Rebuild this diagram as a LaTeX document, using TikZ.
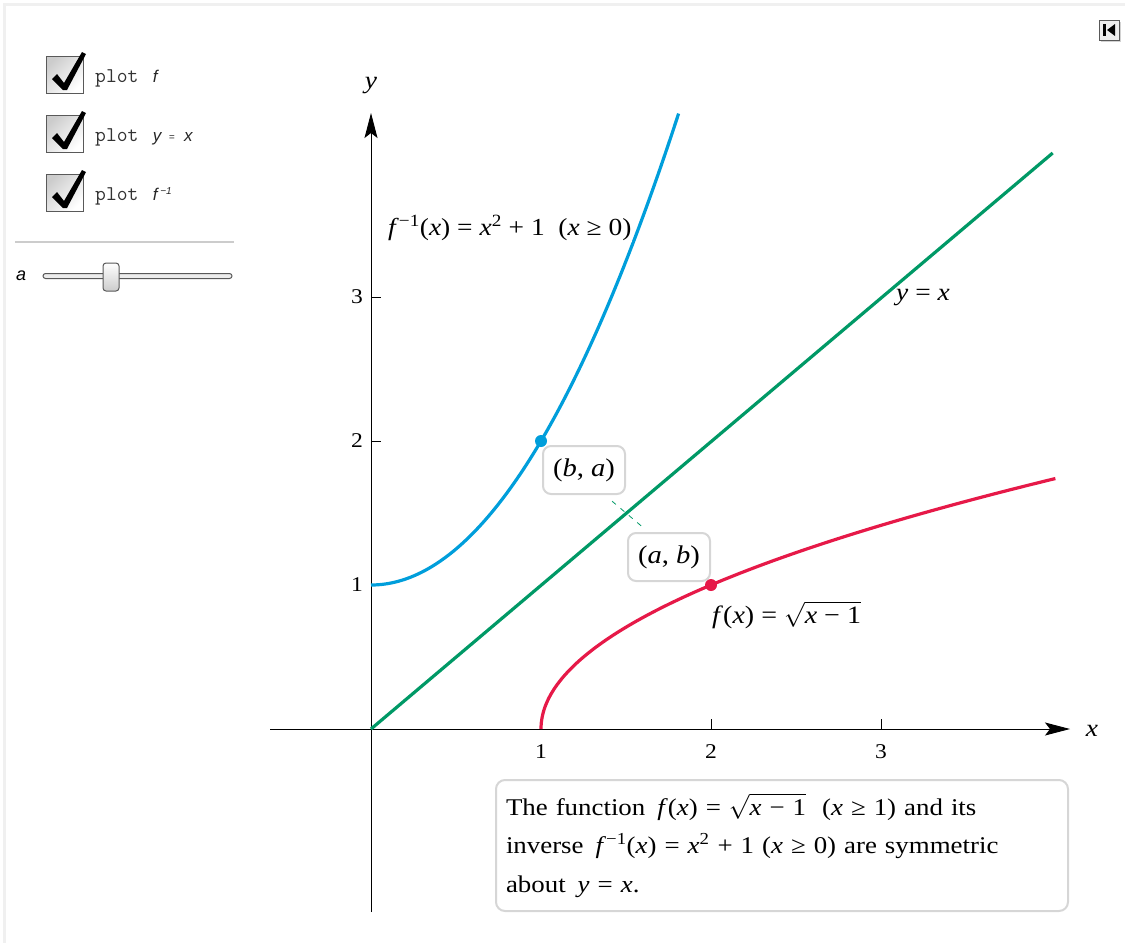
\documentclass[tikz,border=0pt]{standalone}
\usepackage{fontspec}
\setmainfont[FakeStretch=1.12]{Liberation Serif}
\newfontfamily\uisans{Liberation Sans}
\usetikzlibrary{arrows.meta,calc}
\definecolor{cblue}{RGB}{0,158,219}
\definecolor{cgreen}{RGB}{0,153,102}
\definecolor{cred}{RGB}{230,25,72}
\definecolor{boxgray}{RGB}{214,214,214}
\newcommand\vi[1]{\textit{#1}\/}
\newcommand\finv{\vi{f}\textsuperscript{−1}}
\newcommand\rt[1]{$\sqrt{\hbox{#1}}$}
\tikzset{
  curve/.style={line width=3.2pt},
  lbl/.style={font=\fontsize{24.5}{28}\selectfont, inner sep=2pt},
  ticklbl/.style={font=\fontsize{21}{24}\selectfont, inner sep=1pt},
  ptbox/.style={draw=boxgray, line width=2pt, rounded corners=8pt, fill=white,
    minimum width=82pt, minimum height=48pt, font=\fontsize{25.5}{28}\selectfont},
  tbox/.style={draw=boxgray, line width=2pt, rounded corners=9pt, fill=white,
    font=\fontsize{24}{38.5}\selectfont},
  axis/.style={line width=0.9pt, -{Stealth[length=25pt,width=13pt,inset=5pt]}},
  tickmark/.style={line width=0.9pt},
  uitext/.style={font=\fontsize{21}{21}\selectfont, inner sep=0pt, anchor=west},
  chk/.style={draw=gray!70!black, line width=0.8pt, left color=gray!40, right color=white, shading angle=45},
  dot/.style={circle, inner sep=0pt, minimum size=12pt},
}
\begin{document}
\begin{tikzpicture}[x=1pt,y=-1pt]
\useasboundingbox (0,0) rectangle (1125,943);
% frame
\draw[gray!12, line width=3pt] (4,943) -- (4,4) -- (1125,4);
% checkboxes
\foreach \yy/\nm/\txt in {56/cbf/{f}, 115/cby/{y\ \,\raisebox{1pt}{\fontsize{10}{10}\selectfont=}\ \ x}, 174/cbi/{f\,\raisebox{6pt}{\fontsize{10}{10}\selectfont −1}}}{
  \shade[chk] (46,\yy) rectangle (83,\yy+37);
  \fill[black] (52,\yy+23) -- (57,\yy+18) -- (64,\yy+27) -- (82,\yy-4) -- (86,\yy-2) -- (67,\yy+34) -- (63,\yy+34) -- cycle;
  \node[uitext] (\nm) at (95,\yy+22) {\color{gray!40!black}\ttfamily plot\ \,\uisans\itshape\color{black!85}\fontsize{17}{18}\selectfont\txt};
}
% separator
\draw[gray!40, line width=1.2pt] (15,242) -- (234,242);
% slider
\node[uitext, font=\fontsize{18}{18}\selectfont\uisans\itshape] (alab) at (16,276) {a};
\draw[draw=gray!70!black, fill=gray!15, line width=1pt, rounded corners=2.5pt] (43,273.5) rectangle (232,278.5);
\shade[draw=gray!70!black, line width=1pt, rounded corners=3pt, top color=white, bottom color=gray!40] (103,263) rectangle (119,291);
% top right icon
\fill[gray!35] (1101,22) rectangle (1121,42);
\draw[gray!70!black, fill=gray!15, line width=1pt] (1099,20) rectangle (1119,40);
\fill[black] (1103,24) rectangle (1106,36);
\fill[black] (1115,24) -- (1107,30) -- (1115,36) -- cycle;
% axes
\coordinate (xs) at (270,729);
\coordinate (xe) at (1070,729);
\coordinate (ys) at (371,912);
\coordinate (ye) at (371,113);
\draw[axis] (xs) -- (xe);
\draw[axis] (ys) -- (ye);
\node[lbl] (xlab) at (1092,731) {\vi{x}};
\node[lbl] (ylab) at (371,86) {\vi{y}};
\foreach \px/\n in {541/1,711/2,881/3}{
  \draw[tickmark] (\px,729) -- (\px,719);
  \node[ticklbl] (xt\n) at (\px,752) {\n};
}
\foreach \py/\n in {585/1,441/2,297/3}{
  \draw[tickmark] (371,\py) -- (381,\py);
  \node[ticklbl] (yt\n) at (357,\py) {\n};
}
% plot
\begin{scope}[shift={(371,729)}, x=170pt, y=144pt]
  \coordinate (O) at (0,0);
  \coordinate (L) at (4.01,4.0);
  \coordinate (ba) at (1,2);
  \coordinate (ab) at (2,1);
  \draw[cblue, curve] plot[domain=0:1.81, samples=80, smooth] (\x,{\x*\x+1});
  \draw[cgreen, curve] (O) -- (L);
  \draw[cred, curve] plot[domain=0:1.74, samples=80, smooth] ({\x*\x+1},\x);
  \draw[cgreen, line width=0.8pt, dash pattern=on 5pt off 6pt] ($(ba)!0.418!(ab)$) -- ($(ba)!0.6!(ab)$);
  \node[dot, fill=cblue] (dba) at (ba) {};
  \node[dot, fill=cred] (dab) at (ab) {};
\end{scope}
\node[lbl, fill=white, anchor=west, inner sep=1pt] (finvlab) at (387,228) {\finv(\vi{x}) = \vi{x}\textsuperscript{2} + 1\ \ (\vi{x} ≥ 0)};
\node[lbl] (yxlab) at (923,298) {\vi{y} = \vi{x}};
\node[lbl, anchor=west, font=\fontsize{25}{28}\selectfont] (flab) at (710,615) {\vi{f}(\vi{x}) =\ \rt{\vi{x} − 1}};
\node[ptbox] (bbox) at (584,470) {(\vi{b},\ \vi{a})};
\node[ptbox] (abox) at (669,557) {(\vi{a},\ \vi{b})};
\node[tbox, anchor=north west, text width=552pt, align=left, inner sep=10pt, minimum height=131pt] (textbox) at (495,779)
  {The function \,\vi{f}(\vi{x}) =\ \rt{\vi{x} − 1}\ \ (\vi{x} ≥ 1) and its\\
   inverse \,\finv(\vi{x}) = \vi{x}\textsuperscript{2} + 1 (\vi{x} ≥ 0) are symmetric\\
   about \,\vi{y} = \vi{x}.};
\end{tikzpicture}
\end{document}
